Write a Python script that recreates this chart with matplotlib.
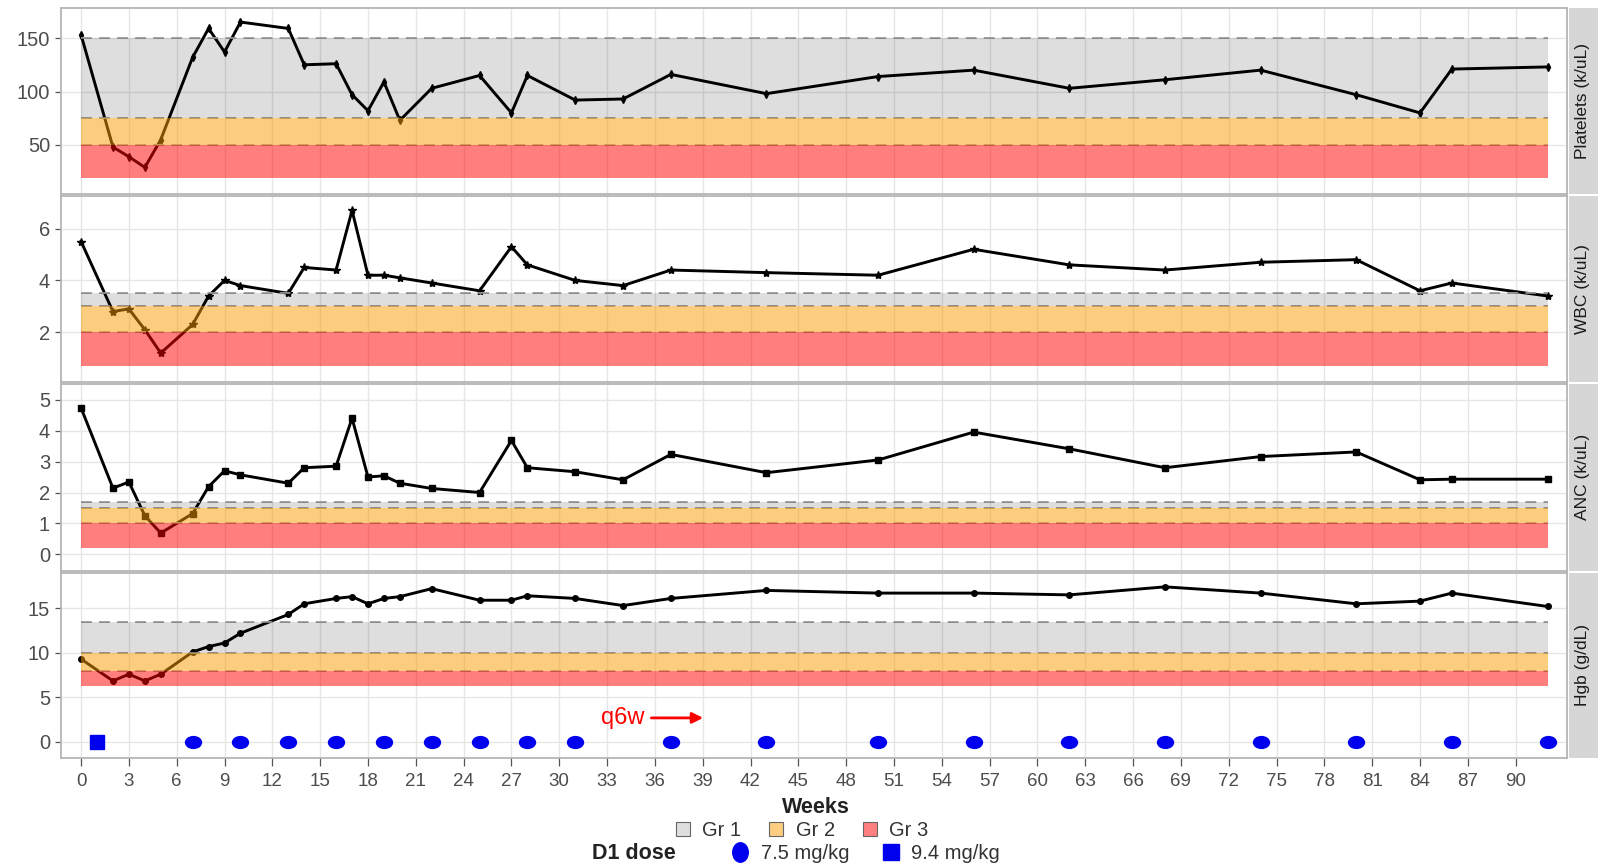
import matplotlib
matplotlib.use("Agg")
import matplotlib.pyplot as plt
from matplotlib.patches import Patch
from matplotlib.lines import Line2D
from matplotlib.path import Path
from matplotlib.markers import MarkerStyle
from matplotlib.transforms import Affine2D

plt.rcParams['font.family'] = ['Liberation Sans', 'DejaVu Sans']

# ============================ data ============================
weeks     = [0, 2, 3, 4, 5, 7, 8, 9, 10, 13, 14, 16, 17, 18, 19, 20, 22, 25, 27, 28,
             31, 34, 37, 43, 50, 56, 62, 68, 74, 80, 84, 86, 92]
platelets = [153, 48, 39, 29, 55, 132, 159, 137, 165, 159, 125, 126, 97, 82, 109, 73, 103, 115, 80, 115,
             92, 93, 116, 98, 114, 120, 103, 111, 120, 97, 80, 121, 123]
wbc       = [5.5, 2.8, 2.9, 2.1, 1.2, 2.3, 3.4, 4.0, 3.8, 3.5, 4.5, 4.4, 6.7, 4.2, 4.2, 4.1, 3.9, 3.6, 5.3, 4.6,
             4.0, 3.8, 4.4, 4.3, 4.2, 5.2, 4.6, 4.4, 4.7, 4.8, 3.6, 3.9, 3.4]
anc       = [4.73, 2.14, 2.34, 1.25, 0.69, 1.32, 2.19, 2.70, 2.57, 2.30, 2.80, 2.85, 4.4, 2.5, 2.54, 2.3, 2.13, 2.0, 3.68, 2.8,
             2.67, 2.41, 3.23, 2.64, 3.05, 3.95, 3.41, 2.8, 3.16, 3.31, 2.41, 2.43, 2.43]
hgb       = [9.3, 6.85, 7.6, 6.85, 7.6, 10.1, 10.7, 11.1, 12.2, 14.3, 15.5, 16.1, 16.3, 15.5, 16.1, 16.3, 17.2, 15.9, 15.9, 16.4,
             16.1, 15.3, 16.1, 17.0, 16.7, 16.7, 16.5, 17.4, 16.7, 15.5, 15.8, 16.7, 15.2]

dose75_weeks = [7, 10, 13, 16, 19, 22, 25, 28, 31, 37, 43, 50, 56, 62, 68, 74, 80, 86, 92]
dose94_weeks = [1]

# grade bands (Gr 1, Gr 2, Gr 3) as (low, high)
plt_bands = [(75, 150), (50, 75), (19, 50)]
wbc_bands = [(3.0, 3.5), (2.0, 3.0), (0.7, 2.0)]
anc_bands = [(1.5, 1.7), (1.0, 1.5), (0.2, 1.0)]
hgb_bands = [(10, 13.5), (8, 10), (6.3, 8)]

panel_labels = ["Platelets (k/uL)", "WBC (k/uL)", "ANC (k/uL)", "Hgb (g/dL)"]
panel_ticks  = [[50, 100, 150], [2, 4, 6], [0, 1, 2, 3, 4, 5], [0, 5, 10, 15]]
panel_ylims  = [(4.5, 178), (0.08, 7.27), (-0.52, 5.5), (-1.8, 19.0)]
panel_marks  = ["d", "*", "s", "o"]
x_ticks      = list(range(0, 91, 3))

# ============================ style ============================
BAND_COLORS = [("black", 0.13), ("#FB9B00", 0.5), ("#FF0000", 0.5)]
GRID = "#E6E6E6"
BORDER = "#B5B5B5"
TXT = "#4D4D4D"
BAND_X = (0, 92)
BLUE = "#0000EE"

fig = plt.figure(figsize=(15.98, 8.65), dpi=100)

# panel rows in reference pixels (849 high), left/right in 1568 wide
rows = [(8, 190), (192, 375), (377, 560), (562, 744)]
L, R = 60 / 1568, 1538 / 1568

series = [platelets, wbc, anc, hgb]
bands = [plt_bands, wbc_bands, anc_bands, hgb_bands]
msizes = [4, 6, 3.8, 4]
axes = []
for i, (top, bot) in enumerate(rows):
    b = 1 - bot / 849
    h = (bot - top) / 849
    ax = fig.add_axes([L, b, R - L, h])
    axes.append(ax)
    ax.set_xlim(-1.25, 93.25)
    ax.set_ylim(*panel_ylims[i])
    ax.set_xticks(x_ticks)
    ax.set_yticks(panel_ticks[i])
    ax.grid(True, color=GRID, lw=1.0, zorder=0)
    ax.set_axisbelow(True)
    for s in ax.spines.values():
        s.set_color(BORDER)
        s.set_linewidth(1.3)
    ax.tick_params(axis="y", length=4, width=0.9, color="#555555", labelsize=14.5, labelcolor=TXT, pad=4)
    if i < 3:
        ax.tick_params(axis="x", length=0, labelbottom=False)
    else:
        ax.tick_params(axis="x", length=6, width=0.9, color="#555555", labelsize=13.5, labelcolor=TXT, pad=5)

    ax.plot(weeks, series[i], color="black", lw=2.1, marker=panel_marks[i], ms=msizes[i], zorder=2)

    for (lo, hi), (c, a) in zip(bands[i], BAND_COLORS):
        ax.fill_between(BAND_X, lo, hi, color=c, alpha=a, lw=0, zorder=4)
    edges = sorted({bands[i][0][1], bands[i][0][0], bands[i][1][0]})
    for y in edges:
        ax.plot(BAND_X, [y, y], color="#9A9A9A", lw=1.3, dashes=(6, 4), zorder=3)

    # facet strip on the right
    sax = fig.add_axes([1540 / 1568, b, 1 - 1540 / 1568, h])
    sax.set_facecolor("#D6D6D6")
    sax.set_xticks([]); sax.set_yticks([])
    for s in sax.spines.values():
        s.set_visible(False)
    sax.text(0.45, 0.5, panel_labels[i], rotation=90, ha="center", va="center",
             fontsize=12.5, color="#1A1A1A", transform=sax.transAxes)

# dose markers in the Hgb panel
ax = axes[3]
ellipse = MarkerStyle(Path.unit_circle().transformed(Affine2D().scale(1.35, 1.0)))
ax.plot(dose75_weeks, [0] * len(dose75_weeks), ls="none", marker=ellipse, ms=11.5,
        color=BLUE, zorder=5)
ax.plot(dose94_weeks, [0] * len(dose94_weeks), ls="none", marker="s", ms=10,
        color=BLUE, zorder=5)

# q6w annotation
ax.text(34.0, 2.7, "q6w", color="red", fontsize=17, ha="center", va="center", zorder=6)
ax.annotate("", xy=(39.2, 2.7), xytext=(35.6, 2.7),
            arrowprops=dict(arrowstyle="-|>", color="red", lw=2, mutation_scale=16), zorder=6)

# axis title and legends
fig.text(801 / 1568, 1 - 793 / 849, "Weeks", ha="center", va="center", fontsize=15.5,
         weight="bold", color="#222222")

grade_handles = [Patch(facecolor=(0.87, 0.87, 0.87), edgecolor="#666666", lw=0.8),
                 Patch(facecolor="#FDCD80", edgecolor="#666666", lw=0.8),
                 Patch(facecolor="#FF8080", edgecolor="#666666", lw=0.8)]
fig.legend(grade_handles, ["Gr 1", "Gr 2", "Gr 3"], ncol=3, loc="center",
           bbox_to_anchor=(787 / 1568, 1 - 815 / 849), frameon=False, fontsize=14.5,
           handlelength=0.7, handleheight=0.7, columnspacing=1.4, handletextpad=0.6,
           labelcolor="#333333")

fig.text(622 / 1568, 1 - 838 / 849, "D1 dose", ha="center", va="center", fontsize=15.5,
         weight="bold", color="#222222")
key_ellipse = MarkerStyle(Path.unit_circle().transformed(Affine2D().scale(1.0, 1.25)))
dose_handles = [Line2D([], [], ls="none", marker=key_ellipse, ms=14, color=BLUE),
                Line2D([], [], ls="none", marker="s", ms=12, color=BLUE)]
fig.legend(dose_handles, ["7.5 mg/kg", "9.4 mg/kg"], ncol=2, loc="center",
           bbox_to_anchor=(849 / 1568, 1 - 838 / 849), frameon=False, fontsize=14.5,
           handlelength=1.0, columnspacing=1.6, handletextpad=0.5, labelcolor="#333333")

fig.savefig("out.png", dpi=100)
